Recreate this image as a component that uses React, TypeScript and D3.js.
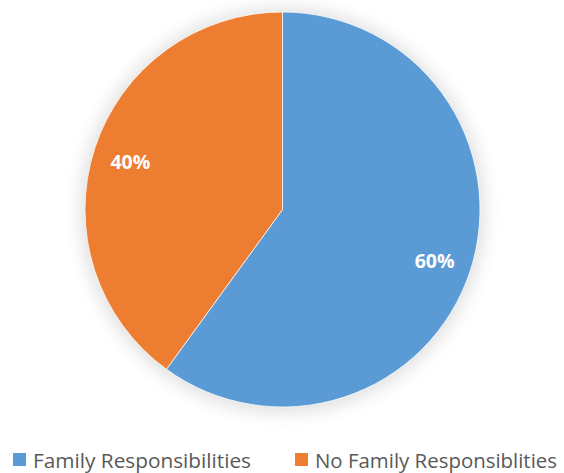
import React from "react";
import * as d3 from "d3";

const categories = ["Family Responsibilities", "No Family Responsiblities"];
const values = [60, 40];
const colors = ["#5B9BD5", "#ED7D31"];

const W = 564;
const H = 473;
const cx = 282.5;
const cy = 209.5;
const R = 197.5;

export default function App() {
  const pie = d3.pie<number>().sort(null).value((d) => d)(values);
  const arc = d3.arc<d3.PieArcDatum<number>>().innerRadius(0).outerRadius(R);
  const labelArc = d3.arc<d3.PieArcDatum<number>>().innerRadius(R * 0.81).outerRadius(R * 0.81);
  const total = d3.sum(values);
  const legendX = [13, 295];
  const legendLen = [218, 242];
  return (
    <svg width={W} height={H} style={{ position: "absolute", left: 0, top: 0 }}>
      <defs>
        <filter id="glow" x="-30%" y="-30%" width="160%" height="160%">
          <feGaussianBlur stdDeviation="9" />
        </filter>
      </defs>
      <rect width={W} height={H} fill="#fff" />
      <circle cx={cx} cy={cy + 1} r={R + 4} fill="#000" opacity={0.13} filter="url(#glow)" />
      <g transform={`translate(${cx},${cy})`}>
        {pie.map((p, i) => (
          <path key={i} d={arc(p) || ""} fill={colors[i]} stroke="#fff" strokeWidth={0.75} />
        ))}
        {pie.map((p, i) => {
          const [x, y] = labelArc.centroid(p);
          return (
            <text
              key={"l" + i}
              x={x}
              y={y}
              dy="0.48em"
              textAnchor="middle"
              fill="#fff"
              fontFamily="'Open Sans', sans-serif"
              fontWeight="bold"
              fontSize={19.5}
            >
              {Math.round((p.data / total) * 100)}%
            </text>
          );
        })}
      </g>
      {categories.map((c, i) => (
        <g key={c} transform={`translate(${legendX[i]},453)`}>
          <rect width={13} height={13} fill={colors[i]} />
          <text
            x={20}
            y={15}
            fill="#595959"
            fontFamily="'Open Sans', sans-serif"
            fontSize={20}
            textLength={legendLen[i]}
            lengthAdjust="spacingAndGlyphs"
          >
            {c}
          </text>
        </g>
      ))}
    </svg>
  );
}
